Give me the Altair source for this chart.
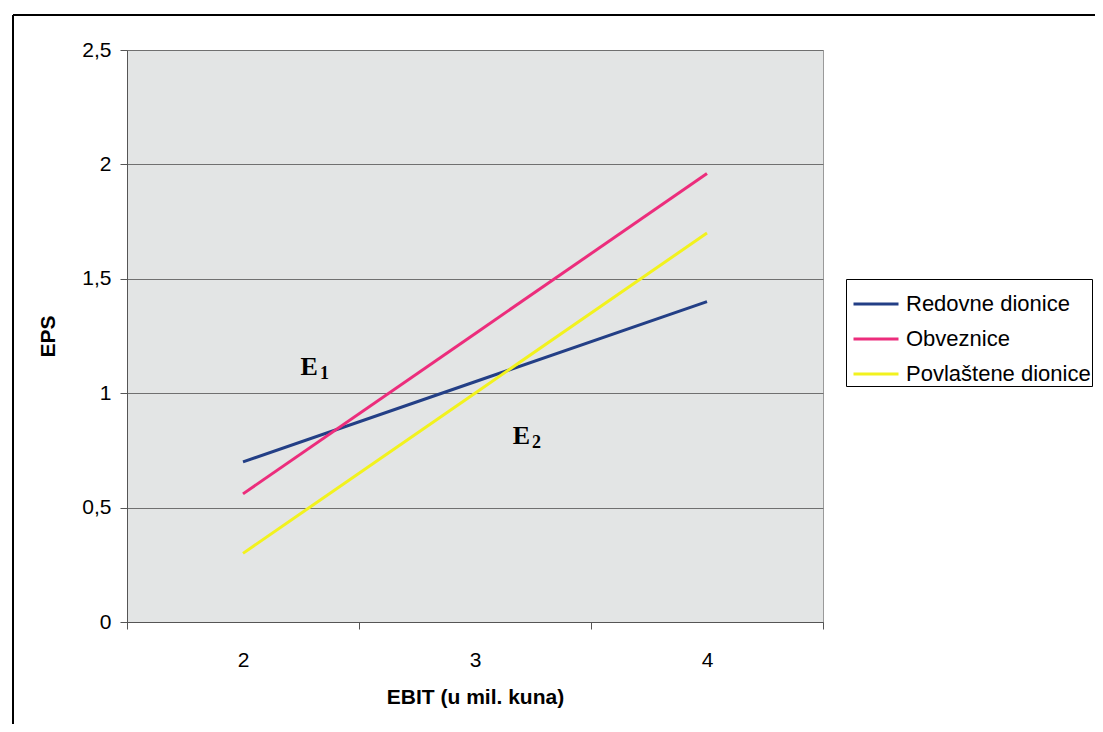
import altair as alt
import pandas as pd

# ---- data ----
ebit = [2, 3, 4]
redovne = [0.70, 1.05, 1.40]
obveznice = [0.56, 1.26, 1.96]
povlastene = [0.30, 1.00, 1.70]
series_names = ["Redovne dionice", "Obveznice", "Povlaštene dionice"]
series_colors = ["#233f86", "#ec2d7c", "#f2f21e"]

ann_x = [2.323, 3.237]
ann_y = [1.08, 0.78]
ann_main = ["E", "E"]
ann_sub = ["1", "2"]

y_ticks = [0, 0.5, 1, 1.5, 2, 2.5]
x_ticks = [1.5, 2, 2.5, 3, 3.5, 4, 4.5]

rows = []
for name, vals in zip(series_names, [redovne, obveznice, povlastene]):
    for i, (x, v) in enumerate(zip(ebit, vals)):
        rows.append({"EBIT": x, "EPS": v, "serija": name, "ord": i})
df = pd.DataFrame(rows)
ann = pd.DataFrame({"x": ann_x, "y": ann_y, "main": ann_main, "sub": ann_sub})

FONT = "Liberation Sans"
W, H = 696, 572

xscale = alt.Scale(domain=[1.5, 4.5], nice=False, zero=False)
yscale = alt.Scale(domain=[0, 2.5], nice=False)

xaxis = alt.Axis(
    values=x_ticks, grid=False, title="EBIT (u mil. kuna)",
    labelExpr="datum.value % 1 == 0 ? format(datum.value, 'd') : ''",
    tickOpacity={"condition": {"test": "datum.value % 1 == 0", "value": 0}, "value": 1},
    tickSize=7, tickColor="#555555", domainColor="#555555",
    labelFontSize=21, labelFont=FONT, labelColor="black", labelPadding=20,
    labelFlush=False, labelOverlap=False,
    titleFontSize=21, titleFont=FONT, titleFontWeight="bold", titleColor="black", titlePadding=16,
)
yaxis = alt.Axis(
    values=y_ticks, grid=True, gridColor="#707070", gridWidth=1,
    title="EPS", labelExpr="replace(format(datum.value, '~g'), '.', ',')",
    tickSize=7, tickColor="#555555", domainColor="#555555",
    labelFontSize=21, labelFont=FONT, labelColor="black", labelPadding=9,
    titleFontSize=21, titleFont=FONT, titleFontWeight="bold", titleColor="black", titlePadding=23,
)

lines = alt.Chart(df).mark_line(strokeWidth=3).encode(
    x=alt.X("EBIT:Q", scale=xscale, axis=xaxis),
    y=alt.Y("EPS:Q", scale=yscale, axis=yaxis),
    color=alt.Color(
        "serija:N",
        scale=alt.Scale(domain=series_names, range=series_colors),
        legend=alt.Legend(
            orient="none", legendX=719, legendY=229, title=None, direction="vertical",
            symbolType="stroke", symbolSize=2025, symbolStrokeWidth=3, symbolOffset=5,
            labelFontSize=22, labelFont=FONT, labelColor="black", labelOffset=6, labelLimit=0,
            strokeColor="black", fillColor="white", padding=1, rowPadding=0,
        ),
    ),
    order="ord:Q",
    detail="serija:N",
)

e_main = alt.Chart(ann).mark_text(
    font="Liberation Serif", fontWeight="bold", fontSize=26, align="right", baseline="alphabetic", color="black"
).encode(
    x=alt.X("x:Q", scale=xscale), y=alt.Y("y:Q", scale=yscale), text="main:N"
)
e_sub = alt.Chart(ann).mark_text(
    font="Liberation Serif", fontWeight="bold", fontSize=18, align="left", baseline="alphabetic",
    dx=2, dy=4, color="black"
).encode(
    x=alt.X("x:Q", scale=xscale), y=alt.Y("y:Q", scale=yscale), text="sub:N"
)

border_left = alt.Chart(df).mark_rule(color="black", strokeWidth=2).encode(
    x=alt.value(-114), y=alt.value(-35), y2=alt.value(700)
)
border_top = alt.Chart(df).mark_rule(color="black", strokeWidth=2).encode(
    x=alt.value(-114), x2=alt.value(1000), y=alt.value(-35)
)

chart = alt.layer(border_left, border_top, lines, e_main, e_sub).properties(
    width=W, height=H,
    autosize=alt.AutoSizeParams(type="none"),
    padding={"left": 119, "top": 42, "right": 272, "bottom": 102},
    background="white",
).configure_view(
    fill="#e3e5e5", stroke="#9a9a9a", strokeWidth=1
)

chart.save("out.html", embed_options={"renderer": "svg", "actions": False})
